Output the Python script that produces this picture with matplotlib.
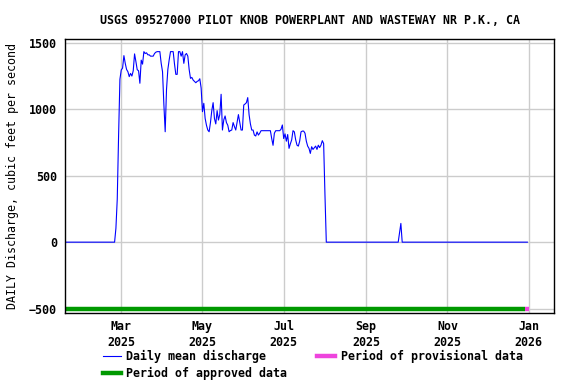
import numpy as np
import matplotlib.pyplot as plt
import matplotlib.dates as mdates
import pandas as pd
from matplotlib.lines import Line2D

# daily mean discharge, cfs
start = '2025-01-18'
end = '2025-12-31'
rise_start = '2025-02-25'
# Feb 25 .. Aug 2
flow_on = [105, 324, 799, 1226,
           1296, 1310, 1404, 1346, 1300, 1283, 1246, 1270, 1250, 1290,
           1417, 1360, 1298, 1290, 1196, 1370, 1340, 1434, 1420, 1425,
           1410, 1410, 1400, 1400, 1400, 1420, 1430, 1434, 1434, 1434,
           1346, 1283, 1040, 831, 1150, 1300, 1372, 1434, 1434, 1434,
           1340, 1263, 1263, 1434, 1434, 1400, 1434, 1346, 1410, 1420,
           1400, 1300, 1233, 1240, 1220, 1210, 1200, 1210, 1215, 1230,
           1160, 982, 1045, 932, 880, 844, 831, 900, 990, 1050,
           930, 890, 990, 919, 960, 1113, 844, 920, 950, 900,
           880, 831, 840, 844, 900, 870, 844, 900, 960, 900,
           844, 844, 1032, 1040, 1050, 1088, 960, 890, 844, 844,
           806, 799, 830, 806, 820, 839, 839, 839, 839, 839,
           839, 839, 839, 780, 729, 820, 839, 839, 839, 839,
           850, 882, 780, 815, 760, 810, 706, 740, 770, 839,
           830, 770, 730, 723, 760, 830, 836, 836, 820, 760,
           723, 706, 668, 718, 698, 710, 723, 698, 730, 712,
           730, 764, 742, 354, 0]
spike_start = '2025-09-26'
flow_spike = [70, 141, 0]

approved = ('2025-01-18', '2025-12-29')
provisional = ('2025-12-29', '2026-01-01')

dates = pd.date_range(start, end, freq='D')
flow = pd.Series(0.0, index=dates)
flow[pd.date_range(rise_start, periods=len(flow_on), freq='D')] = flow_on
flow[pd.date_range(spike_start, periods=len(flow_spike), freq='D')] = flow_spike

plt.rcParams['font.family'] = 'DejaVu Sans Mono'
plt.rcParams['font.weight'] = 'bold'
plt.rcParams['font.size'] = 8.4

fig = plt.figure(figsize=(5.76, 3.84), dpi=100)
ax = fig.add_axes([0.1134, 0.186, 0.8484, 0.7117])
ax.grid(color='#cccccc', linewidth=1)
ax.set_axisbelow(True)
ax.plot(flow.index, flow.values, color='#0000ff', linewidth=0.8)
ax.plot(pd.to_datetime(approved), [-500, -500], color='#009900',
        linewidth=3.2, solid_capstyle='butt')
ax.plot(pd.to_datetime(provisional), [-500, -500], color='#ee44dd',
        linewidth=3.2, solid_capstyle='butt')

ax.set_xlim(pd.Timestamp('2025-01-18'), pd.Timestamp('2026-01-20'))
ax.set_ylim(-530, 1527)
ax.set_yticks([-500, 0, 500, 1000, 1500])
ax.xaxis.set_major_locator(mdates.MonthLocator(bymonth=[1, 3, 5, 7, 9, 11]))
ax.xaxis.set_major_formatter(mdates.DateFormatter('%b\n%Y'))
ax.tick_params(length=0, pad=6)
ax.tick_params(axis='x', pad=5)
for t in ax.get_xticklabels():
    t.set_linespacing(1.35)
for s in ax.spines.values():
    s.set_linewidth(1)

ax.set_title('USGS 09527000 PILOT KNOB POWERPLANT AND WASTEWAY NR P.K., CA',
             pad=11, fontsize=8.4, fontweight='bold')
ax.set_ylabel('DAILY Discharge, cubic feet per second', labelpad=7)

handles = [Line2D([], [], color='#0000ff', linewidth=0.8),
           Line2D([], [], color='#009900', linewidth=3.2),
           Line2D([], [], color='#ee44dd', linewidth=3.2)]
labels = ['Daily mean discharge', 'Period of approved data',
          'Period of provisional data']
fig.legend(handles, labels, ncol=2, loc='upper left',
           bbox_to_anchor=(0.178, 0.089), frameon=False, borderpad=0,
           borderaxespad=0, handlelength=1.55, handletextpad=0.45,
           columnspacing=2.6, labelspacing=0.35)

fig.savefig('out.png', dpi=100)
